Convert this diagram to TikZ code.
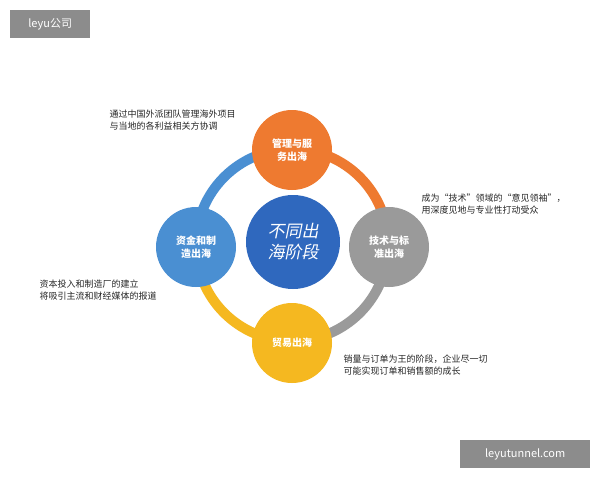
\documentclass[tikz,border=0pt]{standalone}
\usepackage{fontspec}
\setmainfont{Noto Sans CJK SC}
\newfontfamily\slantcjk[FakeSlant=0.2]{Noto Sans CJK SC}
\usetikzlibrary{positioning}
\definecolor{orangeC}{HTML}{EE7A30}
\definecolor{grayC}{HTML}{9A9A9A}
\definecolor{yellowC}{HTML}{F5B820}
\definecolor{blueC}{HTML}{4A8FD2}
\definecolor{darkC}{HTML}{2F68BE}
\tikzset{
  stage/.style={circle,minimum size=80pt,inner sep=0pt,text=white,font=\fontsize{10}{13}\selectfont\bfseries,align=center},
  note/.style={font=\fontsize{9}{12}\selectfont,align=left,text=black!85},
  ring/.style={line width=10pt},
  wmark/.style={fill=black!45,text=white,font=\fontsize{11}{13}\selectfont,inner sep=5pt}
}
\begin{document}
\begin{tikzpicture}[x=1pt,y=-1pt]
\useasboundingbox (0,0) rectangle (600,480);
\fill[white] (0,0) rectangle (600,480);
\coordinate (c) at (292,245);
% ring arcs (y runs down, so angles are mirrored)
\draw[ring,blueC] (c) ++(180:96) arc[start angle=180,end angle=270,radius=96];
\draw[ring,orangeC] (c) ++(270:96) arc[start angle=270,end angle=360,radius=96];
\draw[ring,grayC] (c) ++(0:96) arc[start angle=0,end angle=90,radius=96];
\draw[ring,yellowC] (c) ++(90:96) arc[start angle=90,end angle=180,radius=96];
% stages
\node[stage,fill=orangeC] (top) at (292,150) {管理与服\\务出海};
\node[stage,fill=grayC] (right) at (389,247) {技术与标\\准出海};
\node[stage,fill=yellowC] (bottom) at (292,343) {贸易出海};
\node[stage,fill=blueC] (left) at (196,247) {资金和制\\造出海};
\node[stage,fill=darkC,minimum size=94pt,font=\fontsize{17}{21}\selectfont\slantcjk] (mid) at (293,242) {不同出\\海阶段};
% notes
\node[note,anchor=north west] (ntop) at (106,106) {通过中国外派团队管理海外项目\\与当地的各利益相关方协调};
\node[note,anchor=north west] (nright) at (418,190) {成为“技术”领域的“意见领袖”，\\用深度见地与专业性打动受众};
\node[note,anchor=north west] (nleft) at (36,276) {资本投入和制造厂的建立\\将吸引主流和财经媒体的报道};
\node[note,anchor=north west] (nbottom) at (340,351) {销量与订单为王的阶段，企业尽一切\\可能实现订单和销售额的成长};
% watermarks
\node[wmark,anchor=north west,minimum width=80pt,minimum height=28pt] (wm1) at (10,10) {leyu公司};
\node[wmark,anchor=north west,minimum width=130pt,minimum height=28pt] (wm2) at (460,440) {leyutunnel.com};
\end{tikzpicture}
\end{document}
